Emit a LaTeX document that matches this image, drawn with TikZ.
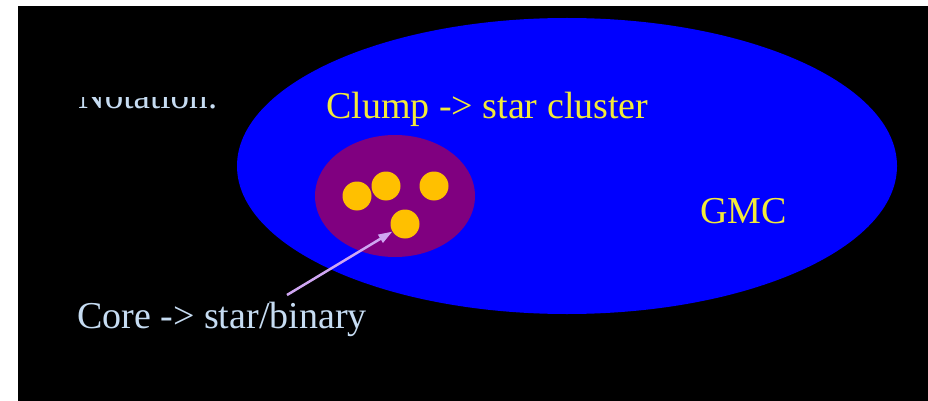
\documentclass[tikz,border=0pt]{standalone}
\usepackage{fontspec}
\setmainfont{Liberation Serif}
\usepackage{tikz}
\usetikzlibrary{arrows.meta,shapes.geometric}
\definecolor{skyblack}{HTML}{000000}
\definecolor{gmcblue}{HTML}{0000FF}
\definecolor{clumppurple}{HTML}{800080}
\definecolor{stargold}{HTML}{FFC000}
\definecolor{labyellow}{HTML}{F2EA3A}
\definecolor{labblue}{HTML}{C6DCF2}
\definecolor{arrowlilac}{HTML}{CFA6F2}

\begin{document}
\begin{tikzpicture}[
    x=1pt, y=-1pt,
    every node/.style={font=\fontsize{38}{42}\selectfont, inner sep=0pt},
    cloud/.style={ellipse, fill=gmcblue, minimum width=660pt, minimum height=296pt},
    clump/.style={ellipse, fill=clumppurple, minimum width=160pt, minimum height=122pt},
    star/.style={circle, fill=stargold, minimum size=29pt},
    ylbl/.style={text=labyellow, anchor=base west},
    blbl/.style={text=labblue, anchor=base west},
    pointer/.style={-{Triangle[length=14pt, width=9pt]}, color=arrowlilac, line width=2.5pt},
  ]

  \useasboundingbox (0,0) rectangle (928,401);
  \fill[white] (0,0) rectangle (928,401);
  \fill[skyblack] (18,6) rectangle (928,401);

  % half hidden heading
  \begin{scope}
    \clip (18,98) rectangle (300,130);
    \node[blbl, font=\fontsize{37}{42}\selectfont] (notation) at (78,109) {Notation:};
  \end{scope}

  \node[cloud] (gmc) at (567,166) {};
  \node[clump] (clmp) at (395,196) {};

  \node[star] (s1) at (357,196) {};
  \node[star] (s2) at (386,186) {};
  \node[star] (s3) at (434,186) {};
  \node[star] (s4) at (405,224) {};

  \node[ylbl] (clumplbl) at (326,118) {Clump -> star cluster};
  \node[ylbl] (gmclbl) at (700,223) {GMC};
  \node[blbl] (corelbl) at (77,328) {Core -> star/binary};

  \coordinate (tail) at (287,295);
  \draw[pointer] (tail) -- (s4);

\end{tikzpicture}
\end{document}
